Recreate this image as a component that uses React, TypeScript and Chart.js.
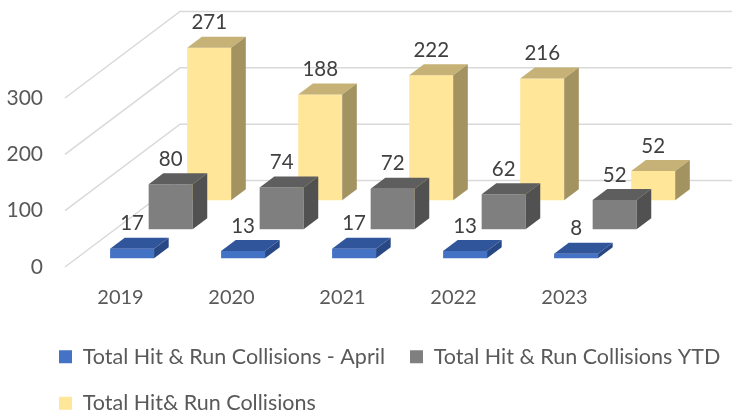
import React, { useEffect, useRef } from 'react';
import { Chart, registerables } from 'chart.js';

Chart.register(...registerables);
Chart.defaults.font.family = 'Lato, "Open Sans", sans-serif';

// ---- data ----
const years = ['2019', '2020', '2021', '2022', '2023'];
const aprilCollisions = [17, 13, 17, 13, 8];
const ytdCollisions = [80, 74, 72, 62, 52];
const totalCollisions = [271, 188, 222, 216, 52];
const seriesNames = [
  'Total Hit & Run Collisions - April',
  'Total Hit & Run Collisions YTD',
  'Total Hit& Run Collisions',
];
const yTicks = [0, 100, 200, 300];

// ---- style ----
const frontColors = ['#4472C4', '#7F7F7F', '#FFE699'];
const topColors = ['#30559A', '#5E5E5E', '#C6B277'];
const sideColors = ['#284785', '#515151', '#A39360'];
const AXIS_COLOR = '#595959';
const LABEL_COLOR = '#404040';
const GRID_COLOR = '#D9D9D9';

// oblique 3D projection parameters (pixels)
const SLANT = 1.33; // horizontal shift per vertical pixel of depth
const FRONT_GAP = 8.7;
const ROW_STEP = 29;
const BAR_DEPTH = 11;
const WALL_DEPTH = 86.5;
const depthOf = (i: number) => FRONT_GAP + i * ROW_STEP;

const threeD = {
  id: 'threeD',
  afterLayout(chart: any) {
    const lg = chart.legend;
    if (lg) {
      lg.left = 34;
      lg.right = lg.left + lg.width;
      lg.top = lg.top + 7;
      lg.bottom = lg.top + lg.height;
    }
  },
  beforeDatasetsDraw(chart: any) {
    const { ctx, chartArea, scales } = chart;
    const y = scales.y;
    ctx.save();
    ctx.strokeStyle = GRID_COLOR;
    ctx.lineWidth = 1.5;
    const dx = WALL_DEPTH * SLANT;
    y.ticks.forEach((t: any) => {
      const py = y.getPixelForValue(t.value);
      ctx.beginPath();
      ctx.moveTo(chartArea.left, py);
      ctx.lineTo(chartArea.left + dx, py - WALL_DEPTH);
      ctx.lineTo(chart.width, py - WALL_DEPTH);
      ctx.stroke();
    });
    ctx.restore();
  },
  beforeDatasetDraw(chart: any, args: any) {
    const d = depthOf(args.index);
    chart.ctx.save();
    chart.ctx.translate(d * SLANT, -d);
  },
  afterDatasetDraw(chart: any, args: any) {
    const ctx = chart.ctx;
    const i = args.index;
    const ddx = BAR_DEPTH * SLANT;
    const ddy = BAR_DEPTH;
    args.meta.data.forEach((el: any) => {
      const { x, y, base, width } = el.getProps(['x', 'y', 'base', 'width'], true);
      const l = x - width / 2;
      const r = x + width / 2;
      ctx.fillStyle = topColors[i];
      ctx.beginPath();
      ctx.moveTo(l, y);
      ctx.lineTo(r, y);
      ctx.lineTo(r + ddx, y - ddy);
      ctx.lineTo(l + ddx, y - ddy);
      ctx.closePath();
      ctx.fill();
      ctx.fillStyle = sideColors[i];
      ctx.beginPath();
      ctx.moveTo(r, y);
      ctx.lineTo(r + ddx, y - ddy);
      ctx.lineTo(r + ddx, base - ddy);
      ctx.lineTo(r, base);
      ctx.closePath();
      ctx.fill();
    });
    ctx.restore();
  },
  afterDatasetsDraw(chart: any) {
    const ctx = chart.ctx;
    ctx.save();
    ctx.fillStyle = LABEL_COLOR;
    ctx.font = '20.5px Lato, "Open Sans", sans-serif';
    ctx.textAlign = 'center';
    ctx.textBaseline = 'middle';
    chart.data.datasets.forEach((ds: any, i: number) => {
      const d = depthOf(i);
      const meta = chart.getDatasetMeta(i);
      meta.data.forEach((el: any, j: number) => {
        const { x, y } = el.getProps(['x', 'y'], true);
        ctx.fillText(String(ds.data[j]), x + d * SLANT, y - d - 25);
      });
    });
    ctx.restore();
  },
};

export default function App() {
  const ref = useRef<HTMLCanvasElement>(null);

  useEffect(() => {
    if (!ref.current) return;
    const seriesData = [aprilCollisions, ytdCollisions, totalCollisions];
    const chart = new Chart(ref.current, {
      type: 'bar',
      data: {
        labels: years,
        datasets: seriesData.map((data, i) => ({
          label: seriesNames[i],
          data,
          backgroundColor: frontColors[i],
          borderWidth: 0,
          grouped: false,
          barPercentage: 0.396,
          categoryPercentage: 1,
          clip: false as any,
        })),
      },
      options: {
        responsive: false,
        animation: false,
        events: [],
        layout: { padding: { top: 98, left: 0, right: 0, bottom: 0 } },
        scales: {
          x: {
            type: 'category',
            grid: { display: false, drawTicks: false },
            border: { display: false },
            ticks: { padding: 19, color: AXIS_COLOR, font: { size: 20 } },
            afterFit: (s: any) => {
              s.height = 47;
            },
          },
          y: {
            type: 'linear',
            min: yTicks[0],
            max: yTicks[yTicks.length - 1],
            afterBuildTicks: (s: any) => {
              s.ticks = yTicks.map((v) => ({ value: v }));
            },
            grid: { display: false, drawTicks: false },
            border: { display: false },
            ticks: { padding: 22, color: AXIS_COLOR, font: { size: 21 } },
            afterFit: (s: any) => {
              s.width = 65;
            },
          },
          depthSpace: {
            type: 'linear',
            position: 'right',
            display: true,
            grid: { display: false, drawTicks: false },
            border: { display: false },
            ticks: { display: false },
            afterFit: (s: any) => {
              s.width = 112;
            },
          },
        },
        plugins: {
          tooltip: { enabled: false },
          legend: {
            position: 'bottom',
            align: 'start',
            labels: {
              boxWidth: 13,
              boxHeight: 13,
              padding: 25,
              color: AXIS_COLOR,
              font: { size: 21.5 },
            },
          },
        },
      },
      plugins: [threeD],
    });
    return () => chart.destroy();
  }, []);

  return (
    <div style={{ position: 'absolute', left: 0, top: 0, width: 732, height: 417, background: '#fff' }}>
      <canvas ref={ref} width={732} height={417} style={{ display: 'block' }} />
    </div>
  );
}
